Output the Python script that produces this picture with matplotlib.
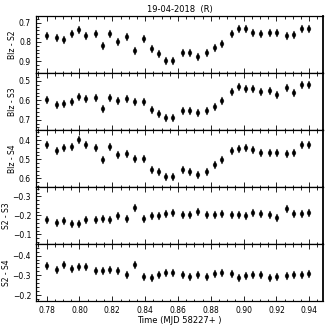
import matplotlib
matplotlib.use("Agg")
import matplotlib.pyplot as plt
from matplotlib.ticker import MultipleLocator, AutoMinorLocator

time = [0.7804, 0.7863, 0.7907, 0.7952, 0.7997, 0.8041, 0.8100, 0.8145, 0.8187,
        0.8232, 0.8291, 0.8336, 0.8394, 0.8440, 0.8482, 0.8527, 0.8571,
        0.8630, 0.8675, 0.8720, 0.8778, 0.8823, 0.8868, 0.8927, 0.8969,
        0.9014, 0.9058, 0.9103, 0.9162, 0.9204, 0.9263, 0.9308, 0.9353, 0.9397]

blz_s2 = [0.771, 0.780, 0.790, 0.761, 0.740, 0.768, 0.761, 0.822, 0.761, 0.801,
          0.773, 0.846, 0.785, 0.836, 0.863, 0.898, 0.898,
          0.857, 0.857, 0.877, 0.857, 0.834, 0.810, 0.757, 0.731, 0.735,
          0.752, 0.761, 0.752, 0.756, 0.770, 0.766, 0.731, 0.733]

blz_s3 = [0.598, 0.622, 0.621, 0.607, 0.584, 0.593, 0.586, 0.647, 0.588, 0.605,
          0.593, 0.610, 0.607, 0.648, 0.672, 0.691, 0.690,
          0.657, 0.653, 0.664, 0.653, 0.633, 0.603, 0.555, 0.533, 0.540,
          0.540, 0.557, 0.550, 0.571, 0.534, 0.562, 0.522, 0.519]

blz_s4 = [0.425, 0.457, 0.442, 0.434, 0.400, 0.425, 0.441, 0.504, 0.435, 0.478,
          0.473, 0.499, 0.499, 0.556, 0.568, 0.591, 0.593,
          0.556, 0.568, 0.582, 0.568, 0.529, 0.503, 0.458, 0.448, 0.442,
          0.453, 0.467, 0.467, 0.467, 0.474, 0.467, 0.428, 0.428]

s2_s3 = [-0.176, -0.159, -0.172, -0.157, -0.157, -0.176, -0.176, -0.179, -0.176,
         -0.198, -0.181, -0.238, -0.181, -0.195, -0.195, -0.209, -0.212,
         -0.202, -0.203, -0.216, -0.203, -0.202, -0.209, -0.203, -0.200,
         -0.198, -0.214, -0.205, -0.203, -0.188, -0.233, -0.205, -0.209, -0.214]

s2_s4 = [-0.347, -0.327, -0.351, -0.334, -0.340, -0.340, -0.322, -0.322, -0.327,
         -0.322, -0.300, -0.351, -0.290, -0.288, -0.300, -0.313, -0.310,
         -0.303, -0.292, -0.300, -0.292, -0.307, -0.310, -0.305, -0.288,
         -0.297, -0.303, -0.300, -0.287, -0.293, -0.297, -0.300, -0.302, -0.305]

series = [blz_s2, blz_s3, blz_s4, s2_s3, s2_s4]
labels = ["Blz - S2", "Blz - S3", "Blz - S4", "S2 - S3", "S2 - S4"]
ylims = [(0.9625, 0.665), (0.753, 0.459), (0.644, 0.347), (-0.050, -0.350), (-0.171, -0.459)]

fig, axes = plt.subplots(5, 1, sharex=True, figsize=(3.27, 3.27), dpi=100)
fig.subplots_adjust(left=0.110, right=0.988, bottom=0.080, top=0.951, hspace=0)

for ax, y, lab, yl in zip(axes, series, labels, ylims):
    ax.plot(time, y, linestyle="none", marker="d", markersize=3.8,
            color="black", markeredgewidth=0.3)
    ax.set_ylim(*yl)
    ax.set_ylabel(lab, fontsize=5.5, labelpad=1.5)
    ax.yaxis.set_major_locator(MultipleLocator(0.1))
    ax.yaxis.set_minor_locator(AutoMinorLocator(5))
    ax.xaxis.set_major_locator(MultipleLocator(0.02))
    ax.xaxis.set_minor_locator(MultipleLocator(0.005))
    ax.tick_params(which="both", direction="in", top=True, right=False,
                   labelsize=5.5, width=0.6)
    ax.tick_params(which="major", length=3.5)
    ax.tick_params(which="minor", length=1.8)
    for s in ax.spines.values():
        s.set_linewidth(0.9)
    ax.spines["right"].set_linewidth(1.3)

axes[0].set_xlim(0.7735, 0.9484)
axes[0].set_title("19-04-2018  (R)", fontsize=6, pad=3)
axes[-1].set_xlabel("Time (MJD 58227+ )", fontsize=6, labelpad=1)

fig.savefig("out.png", dpi=100)
